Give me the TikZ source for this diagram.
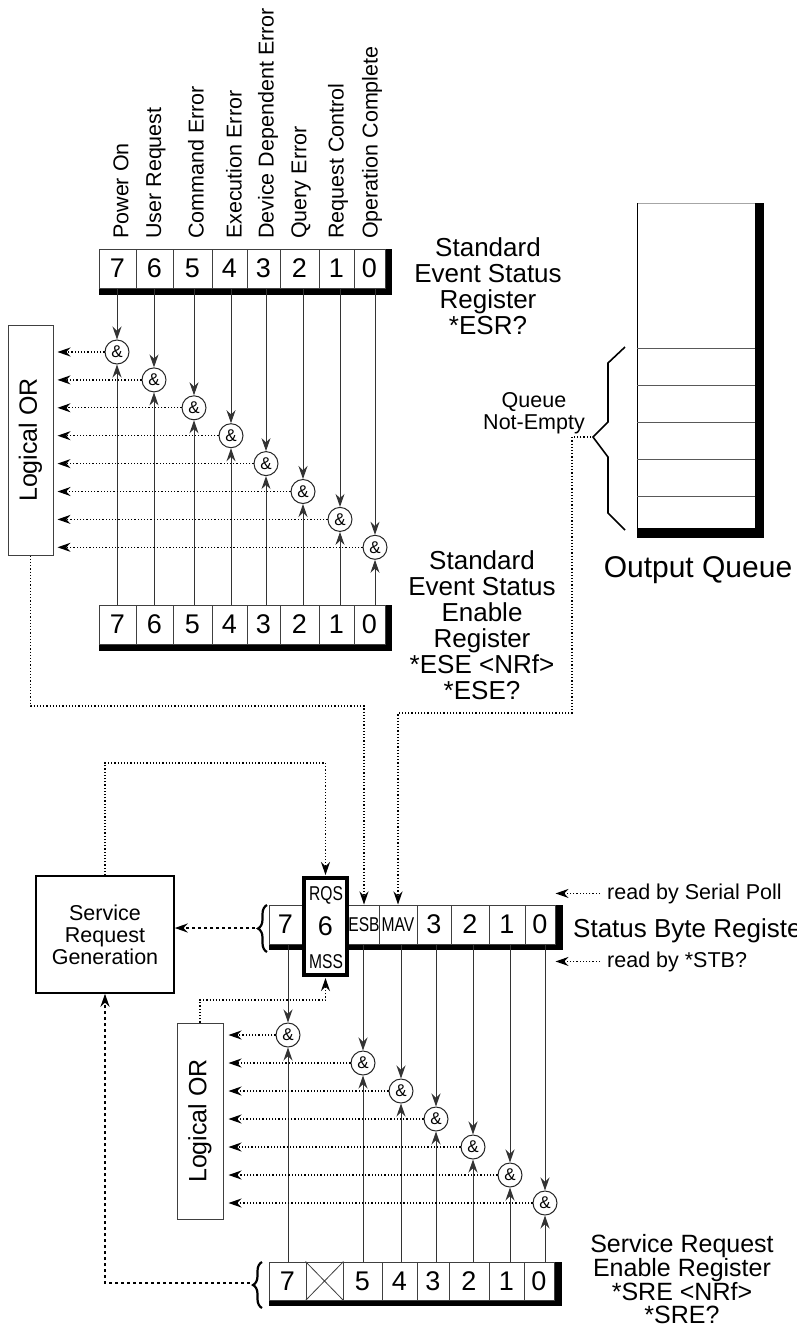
\documentclass[tikz,border=0pt]{standalone}
\usepackage{fontspec}
\setmainfont{Liberation Sans}
\usetikzlibrary{arrows.meta,decorations.pathreplacing}

\newcommand\narrowtxt[1]{{\fontsize{20}{20}\selectfont\scalebox{0.78}[1]{#1}}}

\tikzset{
  cell/.style={draw=black!75, fill=white, line width=1pt, inner sep=0pt,
    minimum height=39pt, font=\fontsize{27}{27}\selectfont},
  andgate/.style={circle, draw=black!85, fill=white, line width=1pt,
    minimum size=24pt, inner sep=0pt, font=\fontsize{17}{17}\selectfont},
  orbox/.style={draw=black!75, fill=white, line width=1pt, inner sep=0pt},
  arr/.style={-{Stealth[length=13pt,width=9pt]}},
  sigline/.style={arr, draw=black!80, line width=1pt},
  dotarrow/.style={arr, dotted, line width=1.2pt},
  heavydash/.style={arr, dash pattern=on 3pt off 3pt, line width=2pt},
  smalltxt/.style={font=\fontsize{21.5}{22}\selectfont},
  bigtxt/.style={font=\fontsize{26}{26}\selectfont, align=center},
  orlabel/.style={rotate=90, font=\fontsize{25}{25}\selectfont},
}

\begin{document}
\begin{tikzpicture}[x=1pt, y=-1pt]
  \useasboundingbox (0,0) rectangle (797,1334);

  % event names above the ESR
  \foreach \x/\txt [count=\i] in {121/Power On,156/User Request,196/Command Error,
      234/Execution Error,268/Device Dependent Error,301/Query Error,
      338/Request Control,372/Operation Complete}
    \node[smalltxt, rotate=90, anchor=west, inner sep=0pt] (evt\i) at (\x,239) {\txt};

  % standard event status register
  \fill (99,249) rectangle (392,295);
  \foreach \l/\r/\b in {99/136/7,136/173/6,173/212/5,212/247/4,247/280/3,280/319/2,319/354/1,354/385/0} {
    \pgfmathsetmacro\w{\r-\l}
    \node[cell, minimum width=\w pt] (esr\b) at ({(\l+\r)/2},268.5) {\b};
  }
  \node[bigtxt, anchor=north, inner sep=0pt] (esrlbl) at (488,237)
    {Standard\\Event Status\\Register\\*ESR?};

  % and gates, upper block
  \foreach \b/\x [count=\i from 0] in {7/117,6/154,5/194,4/231,3/266,2/303,1/340,0/375}
    \node[andgate] (a\b) at (\x,{352+27.9*\i}) {\&};

  % enable register
  \fill (99,605) rectangle (392,651);
  \foreach \l/\r/\b in {99/136/7,136/173/6,173/212/5,212/247/4,247/280/3,280/319/2,319/354/1,354/385/0} {
    \pgfmathsetmacro\w{\r-\l}
    \node[cell, minimum width=\w pt] (ese\b) at ({(\l+\r)/2},624.5) {\b};
  }
  \node[bigtxt, anchor=north, inner sep=0pt] (eselbl) at (482,550)
    {Standard\\Event Status\\Enable\\Register\\*ESE <NRf>\\*ESE?};

  \node[orbox, minimum width=45pt, minimum height=230pt] (or1) at (30.5,440) {};
  \node[orlabel] (or1txt) at (or1) {Logical OR};

  \foreach \b in {7,6,5,4,3,2,1,0} {
    \draw[sigline] (esr\b.south -| a\b) -- (a\b);
    \draw[sigline] (ese\b.north -| a\b) -- (a\b);
    \draw[dotarrow, shorten >=4pt] (a\b) -- (a\b -| or1.east);
  }

  % output queue
  \fill (637,203) rectangle (764,538);
  \fill[white] (637,203) rectangle (755,528);
  \draw[black!35, line width=0.6pt] (637,203) -- (755,203);
  \draw[line width=1pt] (637,203) -- (637,528);
  \foreach \y in {348,385,422,459,496}
    \draw[black!65, line width=1pt] (637,\y) -- (755,\y);
  \draw[line width=1.6pt] (625,347) -- (608,363) -- (608,422) -- (593,437)
    -- (608,457) -- (608,513) -- (625,530);
  \coordinate (qtip) at (591,437);
  \node[smalltxt, align=center, anchor=north, inner sep=0pt] (qne) at (534,392) {Queue\\Not-Empty};
  \node[font=\fontsize{30}{30}\selectfont, anchor=base, inner sep=0pt] (oqlbl) at (698,577) {Output Queue};

  % status byte register
  \fill (269,905) rectangle (563,950);
  \foreach \l/\r/\n/\t in {269/302/sb7/7,349/379/esb/{\narrowtxt{ESB}},379/417/mav/{\narrowtxt{MAV}},
      417/451/sb3/3,451/489/sb2/2,489/525/sb1/1,525/555/sb0/0} {
    \pgfmathsetmacro\w{\r-\l}
    \node[cell, minimum width=\w pt] (\n) at ({(\l+\r)/2},924.5) {\t};
  }
  \node[cell, draw=black, line width=4pt, minimum width=43pt, minimum height=97pt] (sb6) at (325.5,926.5) {6};
  \node[inner sep=0pt] (rqs) at (326,895) {\narrowtxt{RQS}};
  \node[inner sep=0pt] (mss) at (326,962) {\narrowtxt{MSS}};
  \draw[decorate, decoration={brace, amplitude=9pt}, line width=2.2pt] (267,952) -- (267,905);
  \coordinate (sbbr) at (255,928);

  \node[bigtxt, anchor=base west, inner sep=0pt] (sblbl) at (573,937) {Status Byte Register};
  \node[smalltxt, anchor=base west, inner sep=0pt] (rsp) at (607,899) {read by Serial Poll};
  \node[smalltxt, anchor=base west, inner sep=0pt] (rstb) at (607,967) {read by *STB?};
  \draw[dotarrow] ([xshift=-7pt]rsp.west) -- (rsp.west -| sb0.east);
  \draw[dotarrow] ([xshift=-7pt]rstb.west) -- (rstb.west -| sb0.east);

  % service request generation
  \node[draw, line width=1.5pt, minimum width=138pt, minimum height=117pt,
    smalltxt, align=center] (srg) at (105,934.5) {Service\\Request\\Generation};

  \draw[dotarrow] (or1.south) -- (or1.south |- 0,706) -| (esb.north);
  \draw[dotarrow] (qtip) -| (572,713) -| (mav.north);
  \draw[dotarrow, shorten >=1pt] (srg.north) -- (srg.north |- 0,763) -| (sb6.north);
  \draw[heavydash] (sbbr) -- (sbbr -| srg.east);

  % and gates, lower block
  \node[orbox, minimum width=46pt, minimum height=196pt] (or2) at (200,1121) {};
  \node[orlabel] (or2txt) at (or2) {Logical OR};
  \draw[dotarrow, shorten >=1pt] (or2.north) -- (or2.north |- 0,1000) -| (sb6.south);

  \foreach \b/\x/\y in {7/288/1035,5/363/1063,4/401/1091,3/436/1119,2/473/1147,1/510/1175,0/545/1203}
    \node[andgate] (c\b) at (\x,\y) {\&};

  % service request enable register
  \fill (269,1262) rectangle (562,1306);
  \foreach \l/\r/\b/\t in {269/306/7/7,306/343/6/{},343/382/5/5,382/417/4/4,417/449/3/3,
      449/489/2/2,489/524/1/1,524/554/0/0} {
    \pgfmathsetmacro\w{\r-\l}
    \node[cell, minimum width=\w pt, minimum height=38pt] (sre\b) at ({(\l+\r)/2},1281) {\t};
  }
  \draw[black!75, line width=0.8pt] (sre6.north west) -- (sre6.south east)
    (sre6.south west) -- (sre6.north east);
  \draw[decorate, decoration={brace, amplitude=9pt}, line width=2.2pt] (262,1308) -- (262,1262);
  \coordinate (srebr) at (250,1283);
  \draw[heavydash] (srebr) -| (srg.south);
  \node[font=\fontsize{25}{22.7}\selectfont, align=center, anchor=north, inner sep=0pt] (srelbl)
    at (682,1234) {Service Request\\Enable Register\\*SRE <NRf>\\*SRE?};

  \draw[sigline] (sb7.south -| c7) -- (c7);
  \draw[sigline] (esb.south -| c5) -- (c5);
  \draw[sigline] (mav.south -| c4) -- (c4);
  \foreach \b in {3,2,1,0}
    \draw[sigline] (sb\b.south -| c\b) -- (c\b);
  \foreach \b in {7,5,4,3,2,1,0} {
    \draw[sigline] (sre\b.north -| c\b) -- (c\b);
    \draw[dotarrow, shorten >=5pt] (c\b) -- (c\b -| or2.east);
  }
\end{tikzpicture}
\end{document}
